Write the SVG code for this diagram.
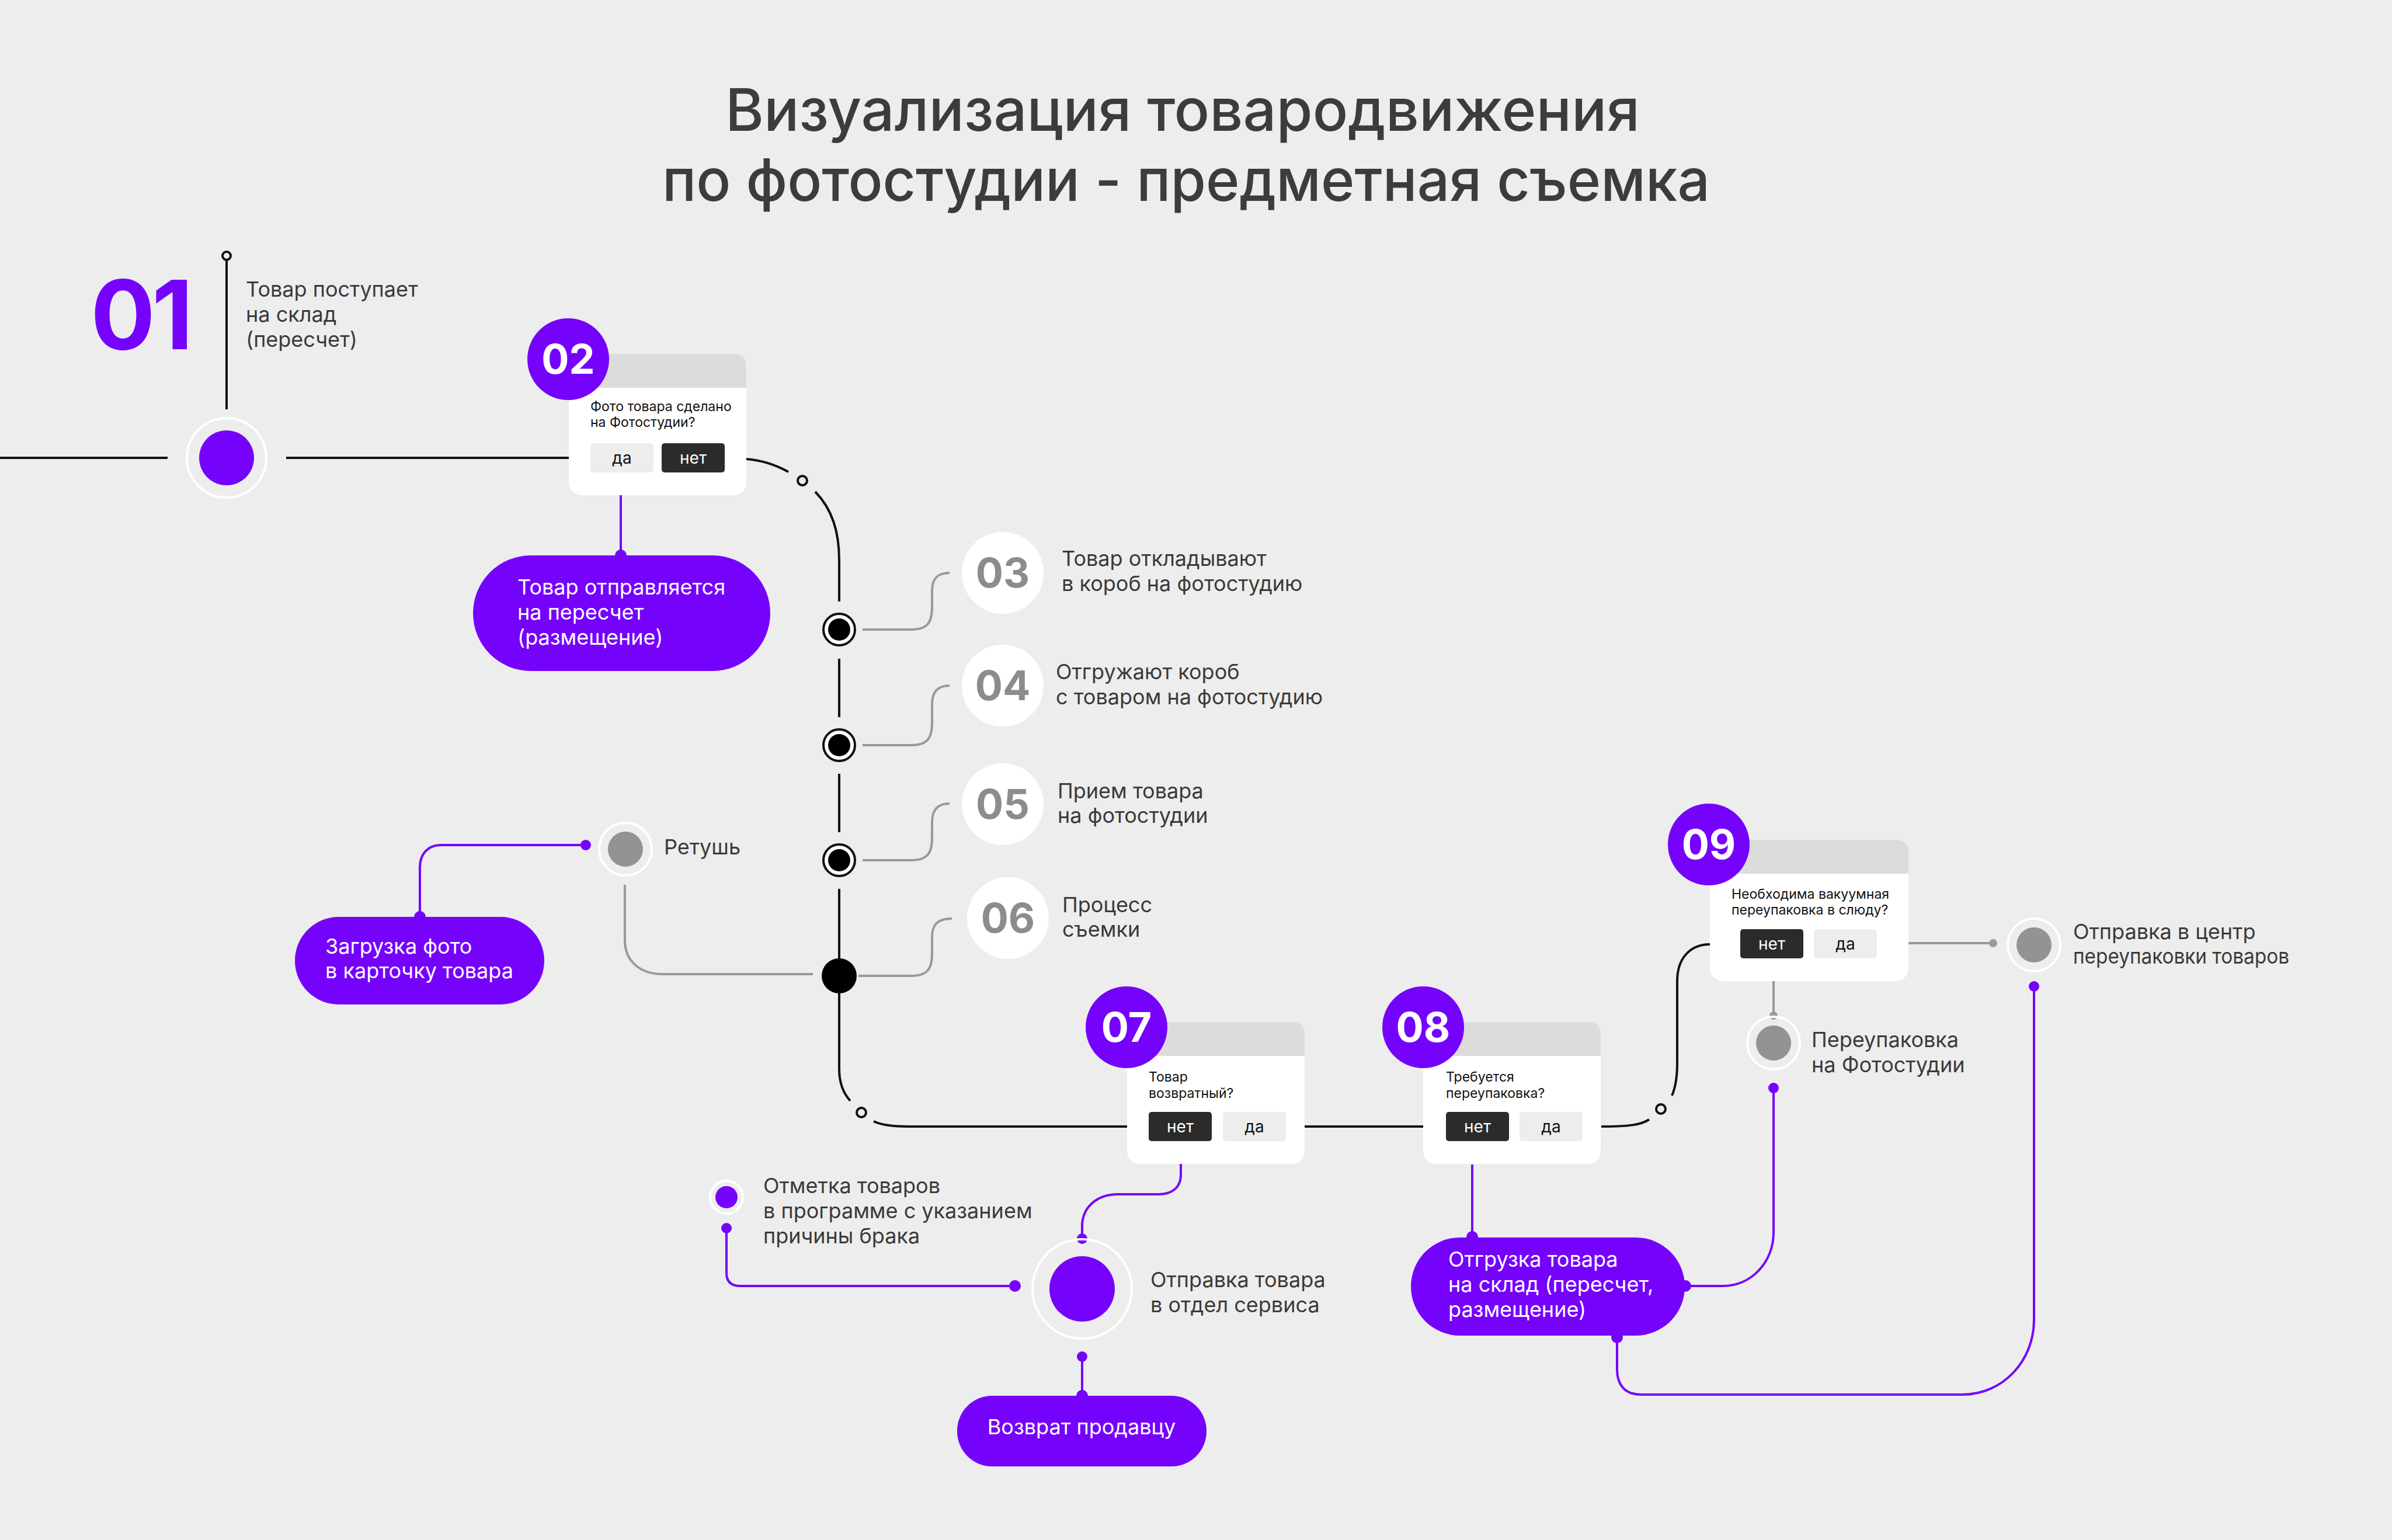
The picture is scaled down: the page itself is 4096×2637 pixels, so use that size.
<svg xmlns="http://www.w3.org/2000/svg" width="4096" height="2637" viewBox="0 0 4096 2637">
<defs>
<style>
.t{font-family:Inter,"Noto Sans","Liberation Sans",sans-serif;}
.title{font-size:100.5px;font-weight:500;fill:#3c3c3c;}
.body{font-size:36px;fill:#3a3a3a;}
.wt{font-size:36px;fill:#ffffff;}
.ct{font-size:23px;fill:#111111;}
.bt{font-size:28px;text-anchor:middle;}
.num{font-size:70px;font-weight:700;text-anchor:middle;}
.blk{fill:none;stroke:#111111;stroke-width:4;}
.gry{fill:none;stroke:#999999;stroke-width:4;}
.pur{fill:none;stroke:#7503fc;stroke-width:4;}
.pdot{fill:#7503fc;}
.ring{fill:none;stroke:#ffffff;stroke-width:4;}
.card{fill:#ffffff;}
.hdr{fill:#dcdcdc;}
.bd{fill:#2b2b2b;}
.bl{fill:#ededed;}
.pill{fill:#7503fc;}
</style>
</defs>
<rect width="4096" height="2637" fill="#ededed"/>

<g id="title" class="t title" text-anchor="middle">
<text x="2025" y="224">Визуализация товародвижения</text>
<text x="2031" y="344" textLength="1794" lengthAdjust="spacingAndGlyphs">по фотостудии - предметная съемка</text>
</g>

<g id="connectors">
<line class="blk" x1="0" y1="784" x2="287" y2="784"/>
<line class="blk" x1="490" y1="784" x2="974" y2="784"/>
<line class="blk" x1="388" y1="446" x2="388" y2="701"/>
<circle class="blk" cx="388" cy="438" r="7" stroke-width="3"/>
<path class="blk" d="M1278,786 C1305,788 1330,797 1350,808"/>
<circle class="blk" cx="1374" cy="823" r="8" stroke-width="3"/>
<path class="blk" d="M1396,842 C1425,872 1437,910 1437,960 V1030"/>
<line class="blk" x1="1437" y1="1128" x2="1437" y2="1228"/>
<line class="blk" x1="1437" y1="1325" x2="1437" y2="1425"/>
<line class="blk" x1="1437" y1="1522" x2="1437" y2="1645"/>
<path class="blk" d="M1437,1700 V1830 C1437,1855 1444,1872 1456,1885"/>
<circle class="blk" cx="1475" cy="1905" r="8" stroke-width="3"/>
<path class="blk" d="M1496,1920 C1510,1927 1530,1929 1555,1929 H1930"/>
<line class="blk" x1="2234" y1="1929" x2="2437" y2="1929"/>
<path class="blk" d="M2742,1929 C2790,1929 2810,1926 2824,1917"/>
<circle class="blk" cx="2844" cy="1899" r="8" stroke-width="3"/>
<path class="blk" d="M2863,1876 C2870,1860 2872,1840 2872,1820 V1680 C2872,1640 2895,1617 2928,1617"/>

<path class="gry" d="M1477,1078 H1560 C1588,1078 1596,1066 1596,1040 V1012 C1596,990 1606,981 1626,981"/>
<path class="gry" d="M1477,1276 H1560 C1588,1276 1596,1264 1596,1238 V1206 C1596,1184 1606,1174 1626,1174"/>
<path class="gry" d="M1477,1473 H1560 C1588,1473 1596,1461 1596,1435 V1408 C1596,1386 1606,1376 1626,1376"/>
<path class="gry" d="M1470,1671 H1560 C1588,1671 1596,1659 1596,1633 V1604 C1596,1583 1606,1573 1630,1573"/>
<path class="gry" d="M1070,1515 V1610 C1070,1645 1095,1668 1135,1668 H1392"/>
<line class="gry" x1="3268" y1="1615" x2="3413" y2="1615"/>
<circle cx="3413" cy="1615" r="7" fill="#999999"/>
<line class="gry" x1="3037" y1="1680" x2="3037" y2="1739"/>
<circle cx="3037" cy="1739" r="7" fill="#999999"/>

<path class="pur" d="M1063,848 V951"/>
<circle class="pdot" cx="1063" cy="951" r="10"/>
<path class="pur" d="M1003,1447 H755 C733,1447 719,1462 719,1485 V1570"/>
<circle class="pdot" cx="1003" cy="1447" r="9"/>
<circle class="pdot" cx="719" cy="1570" r="10"/>
<path class="pur" d="M2022,1993 V2012 C2022,2034 2006,2045 1984,2045 H1915 C1877,2045 1853,2068 1853,2100 V2121"/>
<circle class="pdot" cx="1853" cy="2121" r="9"/>
<path class="pur" d="M1244,2103 V2180 C1244,2195 1252,2202 1268,2202 H1738"/>
<circle class="pdot" cx="1244" cy="2103" r="9"/>
<circle class="pdot" cx="1738" cy="2202" r="10"/>
<path class="pur" d="M1853,2323 V2390"/>
<circle class="pdot" cx="1853" cy="2323" r="9"/>
<circle class="pdot" cx="1853" cy="2390" r="10"/>
<path class="pur" d="M2521,1994 V2118"/>
<circle class="pdot" cx="2521" cy="2118" r="10"/>
<path class="pur" d="M2886,2202 H2950 C3000,2202 3037,2160 3037,2110 V1863"/>
<circle class="pdot" cx="2886" cy="2202" r="10"/>
<circle class="pdot" cx="3037" cy="1863" r="9"/>
<path class="pur" d="M2769,2290 V2345 C2769,2372 2783,2388 2810,2388 H3360 C3430,2388 3483,2330 3483,2260 V1689"/>
<circle class="pdot" cx="2769" cy="2290" r="10"/>
<circle class="pdot" cx="3483" cy="1689" r="9"/>
</g>

<g id="n01">
<circle class="ring" cx="388" cy="784" r="68"/>
<circle class="pdot" cx="388" cy="784" r="47"/>
<text class="t" x="240" y="598" font-size="164" font-weight="700" fill="#7503fc" text-anchor="middle" letter-spacing="-6">01</text>
<text class="t body" x="421" y="508">Товар поступает</text>
<text class="t body" x="421" y="551">на склад</text>
<text class="t body" x="421" y="594">(пересчет)</text>
</g>

<g id="n02">
<rect class="card" x="974" y="606" width="304" height="242" rx="22"/>
<path class="hdr" d="M974,664 V628 Q974,606 996,606 H1256 Q1278,606 1278,628 V664 Z"/>
<circle class="pdot" cx="973" cy="615" r="70"/>
<text class="t num" x="973" y="640" fill="#ffffff">02</text>
<text class="t ct" x="1011" y="704">Фото товара сделано</text>
<text class="t ct" x="1011" y="731">на Фотостудии?</text>
<rect class="bl" x="1011" y="759" width="108" height="50" rx="5"/>
<rect class="bd" x="1133" y="759" width="108" height="50" rx="5"/>
<text class="t bt" x="1065" y="794" fill="#111111">да</text>
<text class="t bt" x="1187" y="794" fill="#ffffff">нет</text>
</g>

<g id="recount">
<rect class="pill" x="810" y="951" width="509" height="198" rx="99"/>
<text class="t wt" x="886" y="1018">Товар отправляется</text>
<text class="t wt" x="886" y="1061">на пересчет</text>
<text class="t wt" x="886" y="1104">(размещение)</text>
</g>

<g id="n03">
<circle cx="1437" cy="1078" r="27" fill="#ffffff" stroke="#111111" stroke-width="4"/>
<circle cx="1437" cy="1078" r="19" fill="#000000"/>
<circle cx="1717" cy="981" r="70" fill="#ffffff"/>
<text class="t num" x="1717" y="1006" fill="#8c8c8c">03</text>
<text class="t body" x="1818" y="969">Товар откладывают</text>
<text class="t body" x="1818" y="1012">в короб на фотостудию</text>
</g>

<g id="n04">
<circle cx="1437" cy="1276" r="27" fill="#ffffff" stroke="#111111" stroke-width="4"/>
<circle cx="1437" cy="1276" r="19" fill="#000000"/>
<circle cx="1717" cy="1174" r="70" fill="#ffffff"/>
<text class="t num" x="1717" y="1199" fill="#8c8c8c">04</text>
<text class="t body" x="1808" y="1163">Отгружают короб</text>
<text class="t body" x="1808" y="1206">с товаром на фотостудию</text>
</g>

<g id="n05">
<circle cx="1437" cy="1473" r="27" fill="#ffffff" stroke="#111111" stroke-width="4"/>
<circle cx="1437" cy="1473" r="19" fill="#000000"/>
<circle cx="1717" cy="1377" r="70" fill="#ffffff"/>
<text class="t num" x="1717" y="1402" fill="#8c8c8c">05</text>
<text class="t body" x="1811" y="1367">Прием товара</text>
<text class="t body" x="1811" y="1409">на фотостудии</text>
</g>

<g id="n06">
<circle cx="1437" cy="1671" r="30" fill="#000000"/>
<circle cx="1726" cy="1572" r="70" fill="#ffffff"/>
<text class="t num" x="1726" y="1597" fill="#8c8c8c">06</text>
<text class="t body" x="1819" y="1562">Процесс</text>
<text class="t body" x="1819" y="1604">съемки</text>
</g>

<g id="retouch">
<circle class="ring" cx="1071" cy="1454" r="45"/>
<circle cx="1071" cy="1454" r="30" fill="#939393"/>
<text class="t body" x="1137" y="1463">Ретушь</text>
</g>

<g id="upload">
<rect class="pill" x="505" y="1570" width="427" height="150" rx="75"/>
<text class="t wt" x="557" y="1633">Загрузка фото</text>
<text class="t wt" x="557" y="1675">в карточку товара</text>
</g>

<g id="n07">
<rect class="card" x="1930" y="1750" width="304" height="243" rx="22"/>
<path class="hdr" d="M1930,1808 V1772 Q1930,1750 1952,1750 H2212 Q2234,1750 2234,1772 V1808 Z"/>
<circle class="pdot" cx="1929" cy="1759" r="70"/>
<text class="t num" x="1929" y="1784" fill="#ffffff">07</text>
<text class="t ct" x="1967" y="1852">Товар</text>
<text class="t ct" x="1967" y="1880">возвратный?</text>
<rect class="bd" x="1967" y="1904" width="108" height="50" rx="5"/>
<rect class="bl" x="2094" y="1904" width="108" height="50" rx="5"/>
<text class="t bt" x="2021" y="1939" fill="#ffffff">нет</text>
<text class="t bt" x="2148" y="1939" fill="#111111">да</text>
</g>

<g id="mark">
<circle class="ring" cx="1244" cy="2050" r="28"/>
<circle class="pdot" cx="1244" cy="2050" r="19"/>
<text class="t body" x="1307" y="2043">Отметка товаров</text>
<text class="t body" x="1307" y="2086">в программе с указанием</text>
<text class="t body" x="1307" y="2129">причины брака</text>
</g>

<g id="service">
<circle class="ring" cx="1853" cy="2207" r="85"/>
<circle class="pdot" cx="1853" cy="2207" r="56"/>
<text class="t body" x="1970" y="2204">Отправка товара</text>
<text class="t body" x="1970" y="2247">в отдел сервиса</text>
</g>

<g id="return">
<rect class="pill" x="1639" y="2390" width="427" height="121" rx="60"/>
<text class="t wt" x="1852" y="2456" text-anchor="middle">Возврат продавцу</text>
</g>

<g id="n08">
<rect class="card" x="2437" y="1750" width="304" height="243" rx="22"/>
<path class="hdr" d="M2437,1808 V1772 Q2437,1750 2459,1750 H2719 Q2741,1750 2741,1772 V1808 Z"/>
<circle class="pdot" cx="2437" cy="1759" r="70"/>
<text class="t num" x="2437" y="1784" fill="#ffffff">08</text>
<text class="t ct" x="2476" y="1852">Требуется</text>
<text class="t ct" x="2476" y="1880">переупаковка?</text>
<rect class="bd" x="2476" y="1904" width="108" height="50" rx="5"/>
<rect class="bl" x="2602" y="1904" width="108" height="50" rx="5"/>
<text class="t bt" x="2530" y="1939" fill="#ffffff">нет</text>
<text class="t bt" x="2656" y="1939" fill="#111111">да</text>
</g>

<g id="ship">
<rect class="pill" x="2416" y="2119" width="469" height="168" rx="84"/>
<text class="t wt" x="2480" y="2169">Отгрузка товара</text>
<text class="t wt" x="2480" y="2212">на склад (пересчет,</text>
<text class="t wt" x="2480" y="2255">размещение)</text>
</g>

<g id="n09">
<rect class="card" x="2928" y="1438" width="340" height="242" rx="22"/>
<path class="hdr" d="M2928,1496 V1460 Q2928,1438 2950,1438 H3246 Q3268,1438 3268,1460 V1496 Z"/>
<circle class="pdot" cx="2926" cy="1446" r="70"/>
<text class="t num" x="2926" y="1471" fill="#ffffff">09</text>
<text class="t ct" x="2965" y="1539">Необходима вакуумная</text>
<text class="t ct" x="2965" y="1566">переупаковка в слюду?</text>
<rect class="bd" x="2980" y="1591" width="108" height="50" rx="5"/>
<rect class="bl" x="3106" y="1591" width="108" height="50" rx="5"/>
<text class="t bt" x="3034" y="1626" fill="#ffffff">нет</text>
<text class="t bt" x="3160" y="1626" fill="#111111">да</text>
</g>

<g id="center">
<circle class="ring" cx="3483" cy="1618" r="45"/>
<circle cx="3483" cy="1618" r="30" fill="#939393"/>
<text class="t body" x="3550" y="1608">Отправка в центр</text>
<text class="t body" x="3550" y="1650" textLength="370" lengthAdjust="spacingAndGlyphs">переупаковки товаров</text>
</g>

<g id="repack">
<circle class="ring" cx="3037" cy="1786" r="45"/>
<circle cx="3037" cy="1786" r="30" fill="#939393"/>
<text class="t body" x="3102" y="1793">Переупаковка</text>
<text class="t body" x="3102" y="1836">на Фотостудии</text>
</g>
</svg>
